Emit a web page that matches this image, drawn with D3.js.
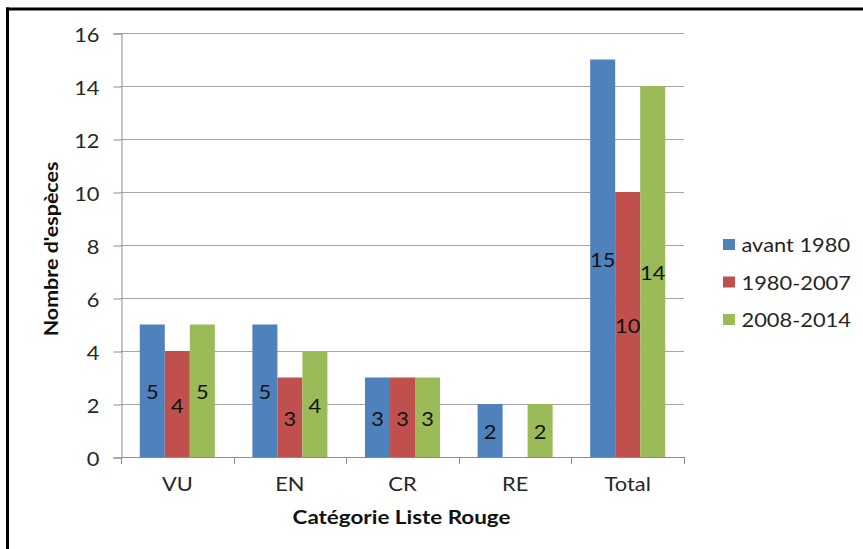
<!DOCTYPE html>
<html>
<head>
<meta charset="utf-8">
<script src="https://cdn.jsdelivr.net/npm/d3@7"></script>
<style>
  html, body { margin: 0; padding: 0; background: #fff; }
  svg { display: block; }
  text { font-family: Lato, "Open Sans", sans-serif; }
</style>
</head>
<body>
<svg id="chart" width="863" height="549"></svg>
<script>
// Species counts per Red List category and period
const categories = ["VU", "EN", "CR", "RE", "Total"];
const seriesNames = ["avant 1980", "1980-2007", "2008-2014"];
const avant1980 = [5, 5, 3, 2, 15];
const p1980_2007 = [4, 3, 3, 0, 10];
const p2008_2014 = [5, 4, 3, 2, 14];
const yTicks = [0, 2, 4, 6, 8, 10, 12, 14, 16];
const colors = ["#4F81BD", "#C0504D", "#9BBB59"];

const seriesValues = [avant1980, p1980_2007, p2008_2014];
const rows = categories.map((c, i) => ({
  category: c,
  values: seriesNames.map((s, j) => ({ series: s, value: seriesValues[j][i] }))
}));

// Lato is narrower than the office font this chart uses; widen glyphs a little.
const STRETCH = 1.12;
const FONT = "19.5px";
function place(sel, x, y, sx = STRETCH) {
  sel.attr("x", 0).attr("y", 0)
    .attr("transform", `translate(${x},${y}) scale(${sx},1)`);
}

const svg = d3.select("#chart");

// frame lines (top and left)
svg.append("line").attr("x1", 6).attr("x2", 863).attr("y1", 9).attr("y2", 9)
  .attr("stroke", "#000").attr("stroke-width", 3);
svg.append("line").attr("x1", 7.5).attr("x2", 7.5).attr("y1", 7.5).attr("y2", 549)
  .attr("stroke", "#000").attr("stroke-width", 3);

const plot = { left: 121, right: 684, top: 33, bottom: 457 };

const x0 = d3.scaleBand().domain(categories).range([plot.left, plot.right]);
const bw = x0.bandwidth();
const x1 = d3.scaleBand().domain(seriesNames).range([bw / 6, bw * 5 / 6]);
const y = d3.scaleLinear().domain([0, 16]).range([plot.bottom, plot.top]);
const color = d3.scaleOrdinal().domain(seriesNames).range(colors);

const gridColor = "#A6A6A6";
const axisColor = "#8C8C8C";

// horizontal gridlines
svg.append("g").selectAll("line").data(yTicks.filter(t => t > 0)).join("line")
  .attr("x1", plot.left).attr("x2", plot.right)
  .attr("y1", d => Math.round(y(d)) + 0.5).attr("y2", d => Math.round(y(d)) + 0.5)
  .attr("stroke", gridColor).attr("stroke-width", 1);

// y axis
const yAxis = svg.append("g")
  .attr("transform", `translate(${plot.left + 0.5},0.5)`)
  .call(d3.axisLeft(y).tickValues(yTicks).tickSize(8).tickPadding(14).tickFormat(d3.format("d")));
yAxis.select(".domain").attr("stroke", axisColor);
yAxis.selectAll(".tick line").attr("stroke", axisColor);
yAxis.selectAll(".tick text").each(function () {
  const t = d3.select(this);
  const x = +t.attr("x");
  t.attr("dy", null).attr("dominant-baseline", "central")
    .attr("fill", "#262626")
    .style("font-size", FONT).style("font-family", "Lato, sans-serif");
  place(t, x, 0);
});

// bars
const groups = svg.append("g").selectAll("g").data(rows).join("g")
  .attr("transform", d => `translate(${x0(d.category)},0)`);

groups.selectAll("rect").data(d => d.values.filter(v => v.value > 0)).join("rect")
  .attr("x", d => x1(d.series))
  .attr("y", d => y(d.value))
  .attr("width", x1.bandwidth())
  .attr("height", d => y(0) - y(d.value))
  .attr("fill", d => color(d.series));

// value labels centred in each bar
groups.selectAll("text").data(d => d.values.filter(v => v.value > 0)).join("text")
  .attr("text-anchor", "middle")
  .attr("dominant-baseline", "central")
  .attr("fill", "#111")
  .style("font-size", FONT)
  .text(d => d.value)
  .each(function (d) {
    place(d3.select(this), x1(d.series) + x1.bandwidth() / 2, (y(d.value) + y(0)) / 2 + 1);
  });

// x axis with ticks at category boundaries
const boundaries = categories.map(c => x0(c)).concat([plot.right]);
const xAxisG = svg.append("g");
xAxisG.append("line").attr("x1", plot.left).attr("x2", plot.right)
  .attr("y1", plot.bottom + 0.5).attr("y2", plot.bottom + 0.5)
  .attr("stroke", axisColor);
xAxisG.selectAll("line.tick").data(boundaries).join("line").attr("class", "tick")
  .attr("x1", d => Math.round(d) + 0.5).attr("x2", d => Math.round(d) + 0.5)
  .attr("y1", plot.bottom).attr("y2", plot.bottom + 7)
  .attr("stroke", axisColor);
xAxisG.selectAll("text").data(categories).join("text")
  .attr("text-anchor", "middle")
  .attr("fill", "#262626")
  .style("font-size", FONT)
  .text(d => d)
  .each(function (d) { place(d3.select(this), x0(d) + bw / 2, 491); });

// axis titles
place(svg.append("text")
  .attr("text-anchor", "middle").attr("fill", "#111")
  .style("font-size", FONT).style("font-weight", "bold")
  .text("Catégorie Liste Rouge"), 401.5, 524, 1.15);

svg.append("text")
  .attr("transform", `translate(58,249) rotate(-90) scale(1.1,1)`)
  .attr("text-anchor", "middle").attr("fill", "#111")
  .style("font-size", FONT).style("font-weight", "bold")
  .text("Nombre d'espèces");

// legend
const legend = svg.append("g").selectAll("g").data(seriesNames).join("g")
  .attr("transform", (d, i) => `translate(723,${244 + i * 37.5})`);
legend.append("rect").attr("x", 0).attr("y", -5).attr("width", 12).attr("height", 11)
  .attr("fill", d => color(d));
legend.append("text")
  .attr("dominant-baseline", "central").attr("fill", "#262626")
  .style("font-size", FONT)
  .text(d => d)
  .each(function () { place(d3.select(this), 18.5, 0.5); });
</script>
</body>
</html>
